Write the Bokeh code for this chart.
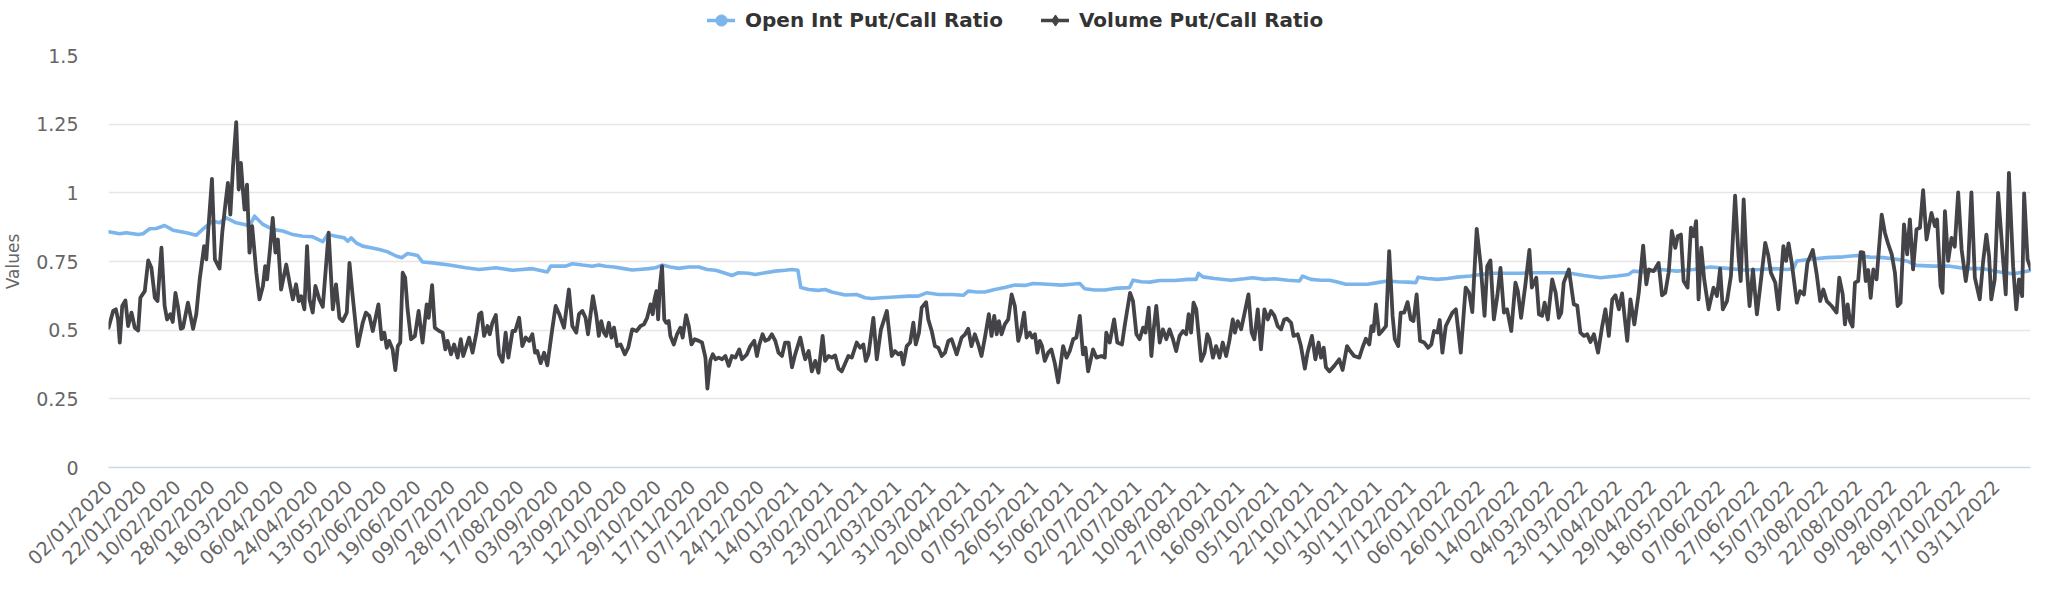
import math
from bokeh.plotting import figure
from bokeh.layouts import column
from bokeh.models import Range1d, FixedTicker, Legend, LegendItem
from bokeh.embed import file_html
from bokeh.resources import INLINE

# ---------------- data ----------------
tick_labels = ["02/01/2020", "22/01/2020", "10/02/2020", "28/02/2020", "18/03/2020", "06/04/2020",
               "24/04/2020", "13/05/2020", "02/06/2020", "19/06/2020", "09/07/2020", "28/07/2020",
               "17/08/2020", "03/09/2020", "23/09/2020", "12/10/2020", "29/10/2020", "17/11/2020",
               "07/12/2020", "24/12/2020", "14/01/2021", "03/02/2021", "23/02/2021", "12/03/2021",
               "31/03/2021", "20/04/2021", "07/05/2021", "26/05/2021", "15/06/2021", "02/07/2021",
               "22/07/2021", "10/08/2021", "27/08/2021", "16/09/2021", "05/10/2021", "22/10/2021",
               "10/11/2021", "30/11/2021", "17/12/2021", "06/01/2022", "26/01/2022", "14/02/2022",
               "04/03/2022", "23/03/2022", "11/04/2022", "29/04/2022", "18/05/2022", "07/06/2022",
               "27/06/2022", "15/07/2022", "03/08/2022", "22/08/2022", "09/09/2022", "28/09/2022",
               "17/10/2022", "03/11/2022"]
days_per_tick = 14
last_day = 784

y_ticks = [0, 0.25, 0.5, 0.75, 1, 1.25, 1.5]
y_tick_labels = ["0", "0.25", "0.5", "0.75", "1", "1.25", "1.5"]

# Open Int Put/Call Ratio (trading-day number, ratio)
oi_day = [0, 4.6, 7.3, 12.1, 14.1, 16.8, 19.5, 22.9, 26.3, 31.8, 35.8, 39.2, 42.6, 45.3, 48.0, 52.1,
          55.5, 57.5, 59.6, 63.0, 67.0, 71.1, 75.2, 79.3, 83.3, 87.4, 89.4, 92.8, 96.2, 97.6, 99.0,
          101.0, 103.7, 107.1, 110.5, 113.9, 117.3, 119.7, 122.0, 126.1, 128.1, 132.2, 139.0, 145.8,
          151.2, 158.0, 164.8, 172.9, 179.0, 180.4, 186.5, 189.2, 193.3, 197.3, 200.0, 202.8, 206.2,
          209.6, 213.6, 216.3, 220.4, 223.1, 225.8, 229.2, 232.6, 236.7, 240.8, 244.2, 247.6, 251.0,
          254.3, 257.0, 261.1, 263.8, 267.9, 272.0, 276.0, 278.8, 281.2, 282.4, 285.6, 289.6, 292.3,
          295.0, 300.5, 305.2, 308.6, 311.3, 315.4, 320.8, 326.3, 330.3, 333.7, 338.5, 343.9, 348.7,
          350.7, 354.1, 357.5, 361.5, 365.6, 369.7, 373.8, 377.2, 383.3, 388.7, 392.8, 396.2, 398.2,
          402.3, 406.4, 410.4, 416.5, 417.9, 421.3, 424.7, 428.8, 434.9, 440.3, 443.7, 444.6, 446.4,
          451.1, 457.9, 463.3, 466.8, 471.5, 475.6, 481.0, 485.8, 487.1, 490.5, 494.6, 498.0, 501.3,
          504.7, 509.5, 513.6, 517.6, 521.7, 525.8, 529.9, 533.3, 534.2, 538.0, 542.1, 546.2, 550.2,
          555.6, 559.7, 565.1, 570.5, 576.0, 580.0, 589.6, 595.0, 601.8, 608.6, 615.4, 620.1, 621.9,
          626.2, 633.0, 639.8, 646.6, 653.4, 660.2, 667.0, 673.7, 679.2, 684.6, 687.3, 688.7, 694.1,
          700.9, 707.7, 713.1, 718.5, 724.0, 729.4, 733.5, 737.5, 744.3, 751.1, 757.9, 764.7, 771.5,
          776.9, 781.0, 784.2]
oi_ratio = [0.858, 0.851, 0.855, 0.848, 0.851, 0.869, 0.870, 0.881, 0.864, 0.855, 0.846, 0.873, 0.897,
            0.891, 0.909, 0.891, 0.885, 0.879, 0.915, 0.885, 0.867, 0.861, 0.848, 0.842, 0.840, 0.822,
            0.848, 0.842, 0.836, 0.824, 0.836, 0.818, 0.806, 0.800, 0.794, 0.785, 0.770, 0.764, 0.779,
            0.772, 0.748, 0.745, 0.737, 0.727, 0.721, 0.727, 0.718, 0.724, 0.712, 0.733, 0.733, 0.742,
            0.737, 0.733, 0.737, 0.733, 0.730, 0.725, 0.719, 0.721, 0.724, 0.727, 0.737, 0.730, 0.725,
            0.730, 0.730, 0.721, 0.718, 0.709, 0.699, 0.709, 0.707, 0.703, 0.709, 0.715, 0.718, 0.721,
            0.718, 0.655, 0.648, 0.645, 0.648, 0.639, 0.628, 0.630, 0.618, 0.615, 0.618, 0.621, 0.624,
            0.624, 0.636, 0.630, 0.630, 0.627, 0.642, 0.639, 0.639, 0.648, 0.655, 0.664, 0.663, 0.670,
            0.667, 0.664, 0.667, 0.670, 0.651, 0.646, 0.646, 0.652, 0.655, 0.682, 0.676, 0.675, 0.681,
            0.681, 0.685, 0.685, 0.707, 0.694, 0.688, 0.682, 0.687, 0.691, 0.685, 0.687, 0.682, 0.679,
            0.697, 0.685, 0.682, 0.682, 0.675, 0.667, 0.667, 0.667, 0.673, 0.679, 0.676, 0.675, 0.673,
            0.693, 0.688, 0.685, 0.688, 0.693, 0.697, 0.703, 0.707, 0.707, 0.707, 0.709, 0.709, 0.709,
            0.699, 0.691, 0.697, 0.703, 0.715, 0.712, 0.721, 0.715, 0.721, 0.730, 0.725, 0.719, 0.721,
            0.724, 0.721, 0.724, 0.752, 0.758, 0.764, 0.767, 0.772, 0.766, 0.764, 0.758, 0.752, 0.736,
            0.733, 0.733, 0.724, 0.724, 0.712, 0.705, 0.712, 0.718]

# Volume Put/Call Ratio (trading-day number, ratio)
vol_day = [0, 1.9, 3.0, 3.9, 4.6, 5.6, 6.9, 8.0, 9.4, 10.7, 12.1, 13.0, 14.8, 16.2, 17.5, 18.9, 20.0,
           21.6, 22.9, 23.9, 25.2, 26.2, 27.3, 28.4, 29.5, 30.4, 32.4, 34.5, 35.8, 37.2, 39.0, 39.9,
           40.9, 42.2, 43.4, 45.3, 46.4, 47.6, 48.7, 49.7, 50.8, 52.1, 53.1, 54.0, 54.8, 55.5, 56.5,
           57.5, 58.6, 60.3, 61.6, 63.0, 63.9, 64.7, 66.0, 67.0, 68.1, 69.1, 70.4, 72.5, 74.1, 75.2,
           76.5, 77.6, 78.6, 79.9, 81.0, 82.0, 83.3, 84.4, 86.0, 87.4,
           89.8, 91.5, 92.8, 94.2, 95.5, 97.2, 98.3, 99.6, 101.7, 103.7, 105.0, 106.4, 107.8, 110.1,
           111.4, 112.5, 113.5, 114.5, 115.9, 117.0, 118.0, 119.0, 120.0, 121.0, 122.0, 123.4, 125.0,
           126.5, 128.1, 129.8, 130.6, 132.0, 133.1, 134.9, 136.3, 137.4, 138.3, 139.7, 141.0, 142.4,
           143.7, 144.7, 145.8, 147.1, 148.5, 150.1, 151.2, 152.1, 153.2, 154.6, 155.5, 156.6, 158.0,
           159.3, 160.7, 162.0, 163.1, 164.8, 165.9, 167.5, 168.8, 170.2, 171.6, 172.9, 174.0, 174.9,
           176.3, 177.7, 179.0, 181.0, 182.4, 183.8,
           185.8, 187.8, 189.2, 190.8, 191.9, 193.3, 194.6, 195.6, 197.6, 199.0, 200.0, 201.0, 202.1,
           203.0, 204.1, 205.2, 206.2, 207.5, 208.9, 210.6, 212.0, 213.6, 215.4, 217.0, 218.4, 219.7,
           221.1, 222.0, 222.7, 223.5, 224.2, 224.9, 225.8, 226.7, 227.5, 228.5, 229.2, 230.6, 231.9,
           233.3, 234.2, 235.6, 236.7, 237.8, 239.1, 240.8, 242.1, 243.5, 244.3, 245.5, 246.5, 247.6,
           248.9, 250.3, 251.6, 253.0, 254.3, 255.7, 257.3, 258.4, 260.4, 261.8, 263.4, 264.5, 265.5,
           266.8, 267.9, 269.3, 270.6, 272.0, 273.3, 274.7, 276.0, 277.4, 278.8, 280.1, 282.2, 283.5,
           284.2, 285.6, 286.9, 288.3, 289.6, 291.3, 292.3, 293.7, 295.1, 296.4, 297.8, 299.1, 301.8,
           303.2, 305.2, 306.6, 307.9, 308.9, 310.0, 312.0, 313.4, 315.1, 317.5, 319.5, 320.8, 322.2,
           323.3, 324.2, 325.6, 327.0, 328.3, 329.3, 330.6, 331.7, 333.5, 334.4, 335.8, 337.1, 338.5,
           339.9, 341.2, 342.6, 343.9, 346.0, 348.0, 349.4, 350.7, 352.0, 353.4, 354.8, 356.1, 357.5,
           359.1, 360.2, 361.3, 362.3, 363.2, 364.3, 365.6, 367.0, 368.4, 369.7, 371.1, 372.1, 373.5,
           374.5, 375.8, 376.8,
           377.9, 378.9, 379.9, 380.8, 381.9, 383.3, 384.6, 386.0, 387.4, 389.4, 390.8, 392.1, 393.5,
           394.8, 396.2, 397.5, 398.5, 399.6, 401.6, 403.0, 405.0, 406.4, 407.0, 408.4, 410.2, 411.5,
           413.4, 414.5, 415.6, 416.7, 417.9, 419.3, 420.6, 422.0, 423.0, 424.3, 425.4, 426.4, 427.4,
           428.8, 430.1, 431.5, 432.8, 434.2, 435.5, 436.9, 438.3, 439.6, 440.6, 441.6, 442.6, 443.7,
           444.6, 445.7, 447.1, 448.2, 449.1, 450.5, 451.8, 453.2, 454.5, 455.9, 457.2, 458.6, 459.5,
           460.6, 462.0, 463.6, 465.0, 466.3, 467.4, 468.8, 470.1, 471.5, 472.9, 474.2, 475.6, 476.9,
           478.3, 479.6,
           480.7, 482.4, 483.4, 485.1, 486.4, 488.0, 489.1, 490.9, 492.3, 493.6, 494.6, 495.7, 496.6,
           498.0, 500.0, 502.0, 503.4, 505.2, 506.5, 508.1, 510.2, 511.5, 512.9, 514.3, 515.2, 516.0,
           517.0, 518.3, 519.7, 521.1, 522.4, 523.8, 524.7, 526.1, 527.1, 528.5, 529.9, 531.2, 532.3,
           533.6, 535.0, 536.7, 538.3, 539.6, 540.7, 542.1, 543.0, 544.1, 545.5, 546.8, 548.2, 549.6,
           551.6, 553.6, 555.0, 556.3, 558.1, 559.7, 561.3, 562.4, 563.7, 565.1, 566.5, 567.8, 569.2,
           570.5, 572.2, 573.9, 574.9, 576.2, 577.9, 579.6, 580.6, 582.4,
           583.5, 584.8, 585.8, 587.1, 588.9, 590.3, 591.6, 592.6, 593.6, 595.7, 597.7, 599.1, 600.4,
           601.8, 603.2, 604.5, 605.9, 607.6, 609.3, 610.6, 612.0, 613.4, 614.7, 616.1, 617.4, 619.5,
           620.8, 622.4, 624.2, 626.0, 627.3, 628.3, 630.3, 632.3, 633.7, 635.0, 636.4, 637.7, 639.1,
           640.1, 641.4, 642.5, 644.1, 645.5, 646.6, 647.6, 648.6, 649.7, 650.9, 652.7, 654.7, 656.1,
           657.4, 658.5, 660.2, 661.8, 663.5, 664.9, 665.8, 667.0, 668.3, 669.4, 670.8, 672.4, 673.7,
           675.8, 677.1, 678.1, 679.9, 681.2, 683.2, 684.3, 685.3, 686.6, 688.7, 690.0, 691.6, 693.0,
           695.2, 696.8, 698.2, 699.5, 700.9, 702.9, 704.9, 706.0, 707.4, 708.3, 709.4, 710.4, 711.4,
           712.4, 713.7, 714.7, 715.8, 716.8, 717.8, 718.8, 719.9, 721.2, 723.3, 724.6, 726.0, 727.4,
           728.7, 729.8, 731.0, 732.4, 733.7, 734.8, 736.1, 737.5, 738.9, 740.2, 741.6, 743.6, 745.0,
           745.9, 747.3, 748.1, 749.1, 750.4, 751.8, 753.1, 754.5, 755.9, 757.6, 758.6, 759.9, 761.3,
           763.3, 764.7, 766.0, 767.1, 768.0, 769.4, 770.8, 772.5, 773.9, 775.2, 776.9, 778.2, 779.3,
           780.6, 781.4, 782.8, 784.2]
vol_ratio = [0.509, 0.570, 0.576, 0.539, 0.455, 0.588, 0.608, 0.515, 0.564, 0.509, 0.499, 0.618, 0.642,
             0.754, 0.727, 0.618, 0.606, 0.800, 0.588, 0.539, 0.558, 0.530, 0.636, 0.582, 0.505, 0.509,
             0.600, 0.505, 0.558, 0.685, 0.806, 0.758, 0.891, 1.051, 0.758, 0.724, 0.855, 0.952, 1.036,
             0.921, 1.097, 1.257, 1.012, 1.109, 1.012, 0.939, 1.030, 0.782, 0.879, 0.709, 0.612, 0.661,
             0.733, 0.685, 0.806, 0.909, 0.782, 0.830, 0.648, 0.739, 0.661, 0.612, 0.667, 0.606, 0.624,
             0.576, 0.806, 0.612, 0.564, 0.661, 0.612, 0.585,
             0.855, 0.576, 0.667, 0.545, 0.533, 0.564, 0.745, 0.624, 0.442, 0.527, 0.564, 0.552, 0.497,
             0.594, 0.467, 0.491, 0.436, 0.461, 0.430, 0.355, 0.442, 0.455, 0.709, 0.691, 0.576, 0.467,
             0.479, 0.570, 0.455, 0.594, 0.545, 0.664, 0.509, 0.497, 0.491, 0.430, 0.461, 0.412, 0.448,
             0.400, 0.467, 0.406, 0.436, 0.473, 0.418, 0.491, 0.558, 0.564, 0.479, 0.515, 0.485, 0.527,
             0.555, 0.412, 0.385, 0.491, 0.400, 0.497, 0.497, 0.545, 0.442, 0.473, 0.461, 0.485, 0.418,
             0.424, 0.380, 0.418, 0.372, 0.503, 0.588, 0.560,
             0.509, 0.648, 0.515, 0.491, 0.558, 0.570, 0.545, 0.485, 0.624, 0.552, 0.479, 0.533, 0.491,
             0.479, 0.527, 0.473, 0.509, 0.442, 0.448, 0.412, 0.436, 0.503, 0.497, 0.515, 0.521, 0.545,
             0.594, 0.558, 0.612, 0.642, 0.539, 0.661, 0.733, 0.539, 0.527, 0.533, 0.479, 0.448, 0.485,
             0.509, 0.473, 0.555, 0.515, 0.448, 0.467, 0.461, 0.455, 0.400, 0.287, 0.390, 0.412, 0.394,
             0.400, 0.394, 0.406, 0.370, 0.406, 0.400, 0.430, 0.394, 0.412, 0.442, 0.461, 0.406, 0.448,
             0.485, 0.461, 0.467, 0.485, 0.461, 0.418, 0.406, 0.455, 0.455, 0.365, 0.412, 0.473, 0.418,
             0.394, 0.424, 0.350, 0.388, 0.345, 0.479, 0.388, 0.406, 0.400, 0.408, 0.360, 0.350, 0.406,
             0.400, 0.455, 0.436, 0.448, 0.388, 0.412, 0.545, 0.394, 0.503, 0.570, 0.406, 0.424, 0.412,
             0.418, 0.375, 0.442, 0.455, 0.527, 0.448, 0.491, 0.582, 0.602, 0.539, 0.497, 0.442, 0.436,
             0.406, 0.418, 0.461, 0.467, 0.412, 0.473, 0.485, 0.505, 0.442, 0.485, 0.448, 0.406, 0.473,
             0.558, 0.479, 0.552, 0.485, 0.533, 0.485, 0.521, 0.539, 0.630, 0.588, 0.461, 0.491, 0.564,
             0.473, 0.491, 0.473,
             0.485, 0.418, 0.461, 0.442, 0.388, 0.418, 0.430, 0.380, 0.310, 0.442, 0.400, 0.424, 0.467,
             0.473, 0.552, 0.412, 0.436, 0.350, 0.430, 0.400, 0.406, 0.400, 0.491, 0.455, 0.539, 0.455,
             0.448, 0.515, 0.576, 0.636, 0.606, 0.485, 0.467, 0.509, 0.491, 0.582, 0.406, 0.509, 0.588,
             0.455, 0.503, 0.467, 0.503, 0.467, 0.424, 0.479, 0.497, 0.485, 0.558, 0.491, 0.600, 0.576,
             0.491, 0.388, 0.418, 0.485, 0.467, 0.400, 0.442, 0.400, 0.455, 0.406, 0.461, 0.539, 0.491,
             0.533, 0.503, 0.570, 0.630, 0.491, 0.467, 0.576, 0.430, 0.576, 0.539, 0.570, 0.552, 0.515,
             0.503, 0.539,
             0.542, 0.527, 0.479, 0.485, 0.442, 0.360, 0.418, 0.479, 0.394, 0.455, 0.400, 0.436, 0.365,
             0.350, 0.370, 0.394, 0.355, 0.442, 0.424, 0.406, 0.400, 0.436, 0.469, 0.448, 0.515, 0.497,
             0.594, 0.485, 0.499, 0.515, 0.788, 0.552, 0.467, 0.442, 0.564, 0.564, 0.602, 0.539, 0.533,
             0.630, 0.461, 0.455, 0.436, 0.448, 0.497, 0.491, 0.537, 0.418, 0.515, 0.539, 0.564, 0.576,
             0.418, 0.655, 0.636, 0.566, 0.869, 0.739, 0.552, 0.733, 0.754, 0.539, 0.624, 0.727, 0.564,
             0.576, 0.497, 0.673, 0.642, 0.545, 0.661, 0.792, 0.655, 0.691,
             0.558, 0.552, 0.600, 0.539, 0.685, 0.636, 0.545, 0.564, 0.673, 0.721, 0.594, 0.590, 0.491,
             0.479, 0.485, 0.457, 0.485, 0.418, 0.515, 0.576, 0.479, 0.612, 0.627, 0.576, 0.634, 0.461,
             0.612, 0.521, 0.636, 0.808, 0.667, 0.721, 0.715, 0.745, 0.627, 0.636, 0.709, 0.861, 0.800,
             0.842, 0.848, 0.679, 0.655, 0.873, 0.842, 0.897, 0.612, 0.800, 0.685, 0.576, 0.655, 0.624,
             0.724, 0.576, 0.606, 0.697, 0.990, 0.770, 0.679, 0.976, 0.721, 0.588, 0.721, 0.558, 0.655,
             0.818, 0.770, 0.709, 0.673, 0.576, 0.806, 0.752, 0.816, 0.745, 0.600, 0.642, 0.630, 0.745,
             0.792, 0.703, 0.606, 0.648, 0.606, 0.588, 0.564, 0.691, 0.630, 0.521, 0.594, 0.533, 0.513,
             0.673, 0.679, 0.784, 0.782, 0.679, 0.719, 0.618, 0.721, 0.685, 0.921, 0.855, 0.812, 0.776,
             0.709, 0.588, 0.600, 0.885, 0.776, 0.903, 0.721, 0.867, 0.873, 1.010, 0.830, 0.927, 0.879,
             0.903, 0.661, 0.636, 0.933, 0.752, 0.836, 0.804, 1.002, 0.794, 0.679, 0.745, 1.002, 0.691,
             0.612, 0.752, 0.848, 0.770, 0.612, 0.685, 1.000, 0.794, 0.630, 1.073, 0.733, 0.576, 0.685,
             0.624, 0.998, 0.758, 0.721]

# ---------------- styles ----------------
OI_COLOR = "#7cb5ec"
VOL_COLOR = "#434348"
FONT = "DejaVu Sans"

# ---- main chart ----
p = figure(width=2032, height=548, output_backend="svg", toolbar_location=None,
           x_range=Range1d(0, last_day), y_range=Range1d(0, 1.5),
           min_border_left=104, min_border_right=2, min_border_top=15, min_border_bottom=121)
p.outline_line_color = None
p.background_fill_color = "white"
p.border_fill_color = "white"

p.xgrid.visible = False
p.ygrid.grid_line_color = "#e6e6e6"
p.ygrid.grid_line_width = 1.7

xa = p.xaxis[0]
xa.ticker = FixedTicker(ticks=[k * days_per_tick for k in range(len(tick_labels))])
xa.major_label_overrides = {k * days_per_tick: lab for k, lab in enumerate(tick_labels)}
xa.major_label_orientation = math.pi / 4
xa.axis_line_color = "#ccd6eb"
xa.axis_line_width = 1.7
xa.major_tick_line_color = None
xa.minor_tick_line_color = None
xa.major_tick_out = 0
xa.major_label_standoff = 16
xa.major_label_text_font = FONT
xa.major_label_text_font_size = "19px"
xa.major_label_text_color = "#666666"

ya = p.yaxis[0]
ya.ticker = FixedTicker(ticks=y_ticks)
ya.major_label_overrides = {t: lab for t, lab in zip(y_ticks, y_tick_labels)}
ya.axis_line_color = None
ya.major_tick_line_color = None
ya.minor_tick_line_color = None
ya.major_tick_out = 0
ya.major_label_standoff = 30
ya.major_label_text_font = FONT
ya.major_label_text_font_size = "19px"
ya.major_label_text_color = "#666666"
ya.axis_label = "Values"
ya.axis_label_text_font = FONT
ya.axis_label_text_font_size = "17px"
ya.axis_label_text_font_style = "normal"
ya.axis_label_text_color = "#666666"
ya.axis_label_standoff = 10

line_style = dict(line_join="round", line_cap="round")
p.line(oi_day, oi_ratio, line_color=OI_COLOR, line_width=3.6, **line_style)
p.line(vol_day, vol_ratio, line_color=VOL_COLOR, line_width=3.8, **line_style)

# ---- legend strip (same series; its y range lies above the data so only the legend shows) ----
leg = figure(width=2032, height=40, output_backend="svg", toolbar_location=None,
             x_range=p.x_range, y_range=Range1d(2, 3),
             x_axis_location=None, y_axis_location=None,
             min_border_left=0, min_border_right=0, min_border_top=0, min_border_bottom=0)
leg.outline_line_color = None
leg.xgrid.visible = False
leg.ygrid.visible = False
leg.background_fill_color = "white"
leg.border_fill_color = "white"

l_oi = leg.line(oi_day, oi_ratio, line_color=OI_COLOR, line_width=3.4, **line_style)
m_oi = leg.scatter(oi_day, oi_ratio, marker="circle", size=12, fill_color=OI_COLOR, line_color=OI_COLOR)
l_vol = leg.line(vol_day, vol_ratio, line_color=VOL_COLOR, line_width=3.4, **line_style)
m_vol = leg.scatter(vol_day, vol_ratio, marker="diamond", size=14, fill_color=VOL_COLOR, line_color=VOL_COLOR)

legend = Legend(items=[LegendItem(label="Open Int Put/Call Ratio", renderers=[l_oi, m_oi]),
                       LegendItem(label="Volume Put/Call Ratio", renderers=[l_vol, m_vol])],
                location=(599, 5), orientation="horizontal",
                glyph_width=28, glyph_height=30, label_height=24, label_standoff=10, spacing=38,
                padding=0, margin=0, border_line_color=None, background_fill_alpha=0,
                label_text_font=FONT, label_text_font_style="bold", label_text_font_size="20px",
                label_text_color="#333333")
leg.add_layout(legend)

layout = column(leg, p, spacing=0)
open("out.html", "w").write(file_html(layout, INLINE))
